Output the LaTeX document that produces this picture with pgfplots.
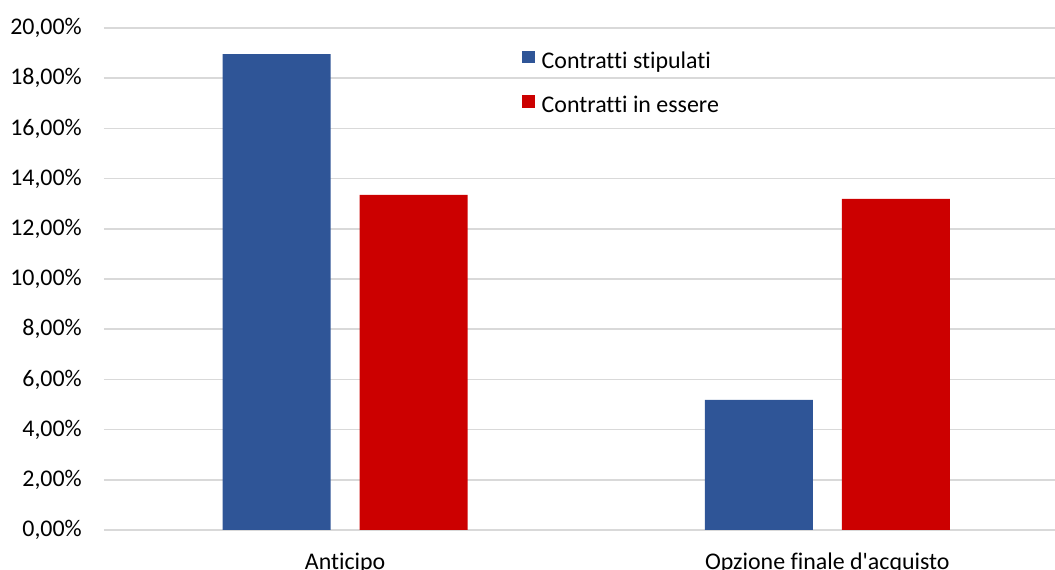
\documentclass[border=0pt]{standalone}
\usepackage{fontspec}
\setmainfont{Carlito}[Ligatures={CommonOff,TeXOff}]
\usepackage{pgfplots}
\pgfplotsset{compat=1.18}
\definecolor{cblue}{HTML}{2F5597}
\definecolor{cred}{HTML}{CC0000}
\definecolor{cgrid}{HTML}{D9D9D9}
\begin{document}
\begin{tikzpicture}
\begin{axis}[
 at={(0,0)}, anchor=south west,
 scale only axis, width=951bp, height=502bp,
 xmin=-0.5, xmax=1.472, ymin=0, ymax=20,
 axis line style={draw=none},
 ytick={0,2,...,20},
 yticklabel={\pgfmathprintnumber[fixed,fixed zerofill,precision=2,use comma]{\tick}\%},
 /pgf/number format/assume math mode=true,
 ymajorgrids, grid style={cgrid, line width=1.5bp},
 major tick length=0pt,
 xtick={0,1}, xticklabels={Anticipo, Opzione finale d'acquisto},
 tick label style={font=\fontsize{24}{28}\selectfont},
 yticklabel style={inner sep=0pt, xshift=-22bp},
 xticklabel style={inner sep=0pt, anchor=north, yshift=-23bp},
 legend style={draw=none, fill=none, at={(rel axis cs:0.4364,0.8865)}, anchor=west,
   font=\fontsize{24}{28}\selectfont, row sep=21bp,
   nodes={inner sep=0pt, text height=17bp, text depth=6bp}},
 legend cell align=left,
]
\addplot[ybar, bar width=0.224, bar shift=-0.142, fill=cblue, draw=none,
  legend image code/.code={\fill[cblue] (0bp,-0.5bp) rectangle (12.5bp,12bp);}]
  coordinates {(0,18.96) (1,5.18)};
\addlegendentry{\hspace{7bp}Contratti stipulati}
\addplot[ybar, bar width=0.224, bar shift=0.142, fill=cred, draw=none,
  legend image code/.code={\fill[cred] (0bp,-0.5bp) rectangle (12.5bp,12bp);}]
  coordinates {(0,13.35) (1,13.19)};
\addlegendentry{\hspace{7bp}Contratti in essere}
\end{axis}
\pgfresetboundingbox
\useasboundingbox (-104bp,-40bp) rectangle (951bp,530bp);
\end{tikzpicture}
\end{document}
